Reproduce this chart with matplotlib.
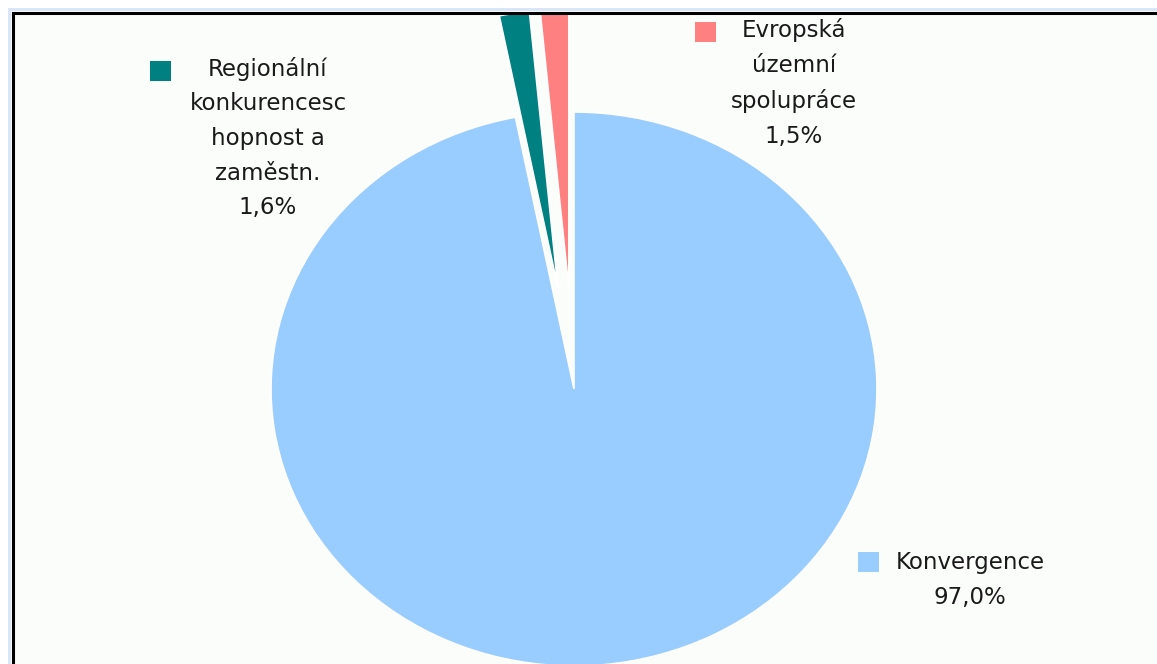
import matplotlib
matplotlib.use("Agg")
import matplotlib.pyplot as plt
from matplotlib.patches import Rectangle

# Data (order: counter-clockwise from 12 o'clock)
categories = ["Evropská\núzemní\nspolupráce", "Regionální\nkonkurencesc\nhopnost a\nzaměstn.", "Konvergence"]
shares = [1.5, 1.6, 97.0]
colors = ["#FF8080", "#008080", "#99CCFF"]
explode = [0.36, 0.37, 0.0]

W, H = 1157, 664
fig = plt.figure(figsize=(W / 100, H / 100), dpi=100)
fig.patch.set_facecolor("white")

# thin light-blue strip outside the frame
fig.patches.append(Rectangle((8 / W, 0), 3 / W, (H - 8) / H, transform=fig.transFigure,
                             facecolor="#D8E6F8", edgecolor="none"))
fig.patches.append(Rectangle((8 / W, (H - 11) / H), (W - 8) / W, 3 / H, transform=fig.transFigure,
                             facecolor="#D8E6F8", edgecolor="none"))

edge = 12.5
ax = fig.add_axes([edge / W, 0, 1 - edge / W + 0.01, (H - edge) / H])
ax.set_facecolor("#FBFDFB")

wedges, _ = ax.pie(shares, colors=colors, startangle=90, counterclock=True,
                   explode=explode,
                   wedgeprops=dict(edgecolor="white", linewidth=1.2))
for w in wedges:
    w.set_clip_on(True)

# pie is slightly wider than tall in the reference
cx, cy = 574, 389
rx, ry = 303, 277
ax.set_aspect("auto")
ax.set_xlim(-(cx - edge) / rx, (W + 0.01 * W - cx) / rx)
ax.set_ylim(-(H - cy) / ry, (cy - edge) / ry)

ax.set_frame_on(True)
for side in ["right", "bottom"]:
    ax.spines[side].set_visible(False)
for side in ["left", "top"]:
    ax.spines[side].set_color("black")
    ax.spines[side].set_linewidth(2.2)

# labels with small colour keys (pixel positions from the top-left)
label_pos = [(794, 83), (268, 138), (970, 580)]
key_pos = [(695, 22), (150, 61), (858, 552)]
for name, share, color, (tx, ty), (kx, ky) in zip(categories, shares, colors, label_pos, key_pos):
    text = name + "\n" + f"{share:.1f}%".replace(".", ",")
    fig.text(tx / W, 1 - ty / H, text, ha="center", va="center", fontsize=16.5,
             family="DejaVu Sans", color="#1a1a1a", linespacing=1.65)
    fig.patches.append(Rectangle((kx / W, 1 - (ky + 20) / H), 21 / W, 20 / H,
                                 transform=fig.transFigure, facecolor=color, edgecolor="none"))

fig.savefig("out.png", dpi=100)
